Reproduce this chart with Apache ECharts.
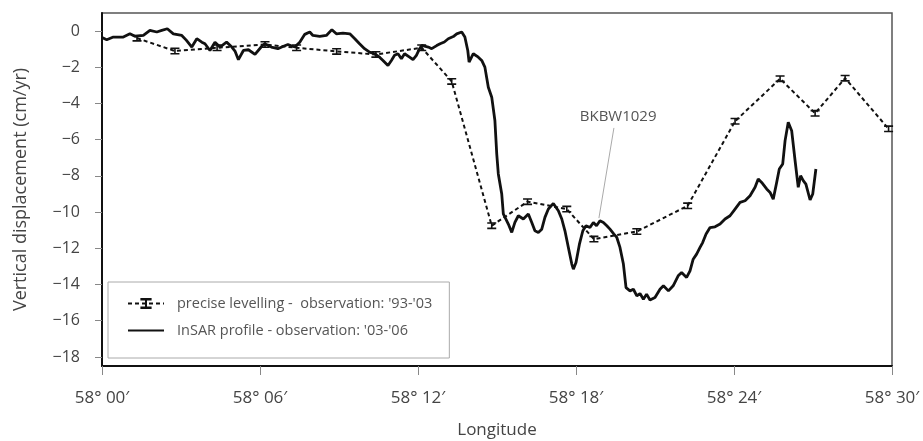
<!DOCTYPE html>
<html>
<head>
<meta charset="utf-8">
<script src="https://cdn.jsdelivr.net/npm/echarts@6/dist/echarts.min.js"></script>
<style>
  html, body { margin: 0; padding: 0; background: #fff; }
  #chart { width: 923px; height: 441px; }
</style>
</head>
<body>
<div id="chart"></div>
<script>
// ---- Data (x: minutes of longitude past 58°, y: cm/yr) ----
const xTicks = [0, 6, 12, 18, 24, 30];
const yTicks = [0, -2, -4, -6, -8, -10, -12, -14, -16, -18];

const levName = "precise levelling -  observation: '93-'03";
const levX = [1.33, 2.77, 4.37, 6.19, 7.39, 8.91, 10.4, 12.14, 13.28, 14.8, 16.16, 17.65, 18.68, 20.31, 22.24, 24.04, 25.75, 27.08, 28.22, 29.87];
const levY = [-0.39, -1.1, -0.92, -0.74, -0.92, -1.12, -1.29, -0.92, -2.78, -10.75, -9.42, -9.83, -11.49, -11.07, -9.65, -4.98, -2.63, -4.54, -2.6, -5.4];

const insarName = "InSAR profile - observation: '03-'06";
const insarX = [0, 0.18, 0.43, 0.81, 1.06, 1.25, 1.57, 1.82, 2.08, 2.27, 2.48, 2.71, 3.03, 3.2, 3.41, 3.6, 3.79, 3.91, 4.1, 4.29, 4.48, 4.73, 4.93, 5.05, 5.18, 5.37, 5.56, 5.81, 6.06, 6.18, 6.43, 6.68, 6.87, 7.06, 7.32, 7.51, 7.7, 7.89, 8.01, 8.27, 8.52, 8.73, 8.9, 9.15, 9.41, 9.6, 9.78, 9.97, 10.16, 10.35, 10.54, 10.67, 10.86, 10.99, 11.11, 11.24, 11.37, 11.49, 11.68, 11.81, 11.94, 12.06, 12.14, 12.39, 12.52, 12.71, 12.84, 13.0, 13.15, 13.34, 13.47, 13.66, 13.78, 13.89, 13.94, 14.1, 14.29, 14.42, 14.54, 14.67, 14.8, 14.92, 14.99, 15.05, 15.18, 15.24, 15.37, 15.43, 15.56, 15.68, 15.81, 16.0, 16.19, 16.32, 16.44, 16.57, 16.7, 16.82, 16.95, 17.14, 17.33, 17.46, 17.58, 17.71, 17.84, 17.9, 18.0, 18.13, 18.26, 18.38, 18.53, 18.66, 18.78, 18.91, 19.04, 19.17, 19.29, 19.44, 19.55, 19.67, 19.8, 19.9, 20.05, 20.18, 20.31, 20.43, 20.56, 20.68, 20.81, 21.0, 21.19, 21.32, 21.51, 21.69, 21.88, 22.01, 22.2, 22.33, 22.45, 22.58, 22.71, 22.81, 22.94, 23.09, 23.28, 23.47, 23.66, 23.85, 24.04, 24.23, 24.42, 24.61, 24.8, 24.92, 25.05, 25.24, 25.37, 25.49, 25.62, 25.72, 25.85, 25.94, 26.06, 26.19, 26.32, 26.44, 26.53, 26.63, 26.73, 26.89, 26.99, 27.11];
const insarY = [-0.35, -0.48, -0.33, -0.33, -0.15, -0.29, -0.24, 0.04, -0.05, 0.04, 0.13, -0.15, -0.24, -0.5, -0.88, -0.42, -0.61, -0.7, -1.07, -0.61, -0.88, -0.61, -0.88, -1.1, -1.58, -1.07, -1.03, -1.29, -0.85, -0.7, -0.88, -0.97, -0.85, -0.74, -0.88, -0.61, -0.18, -0.05, -0.24, -0.29, -0.24, 0.08, -0.15, -0.11, -0.15, -0.42, -0.7, -0.97, -1.16, -1.25, -1.44, -1.62, -1.9, -1.62, -1.34, -1.25, -1.53, -1.25, -1.44, -1.58, -1.34, -0.97, -0.79, -0.88, -0.97, -0.8, -0.7, -0.6, -0.42, -0.3, -0.15, -0.05, -0.33, -1.07, -1.71, -1.25, -1.44, -1.62, -1.99, -3.1, -3.65, -4.94, -6.78, -7.89, -9.0, -10.1, -10.48, -10.66, -11.12, -10.57, -10.2, -10.38, -10.1, -10.57, -11.03, -11.12, -10.94, -10.29, -9.83, -9.52, -9.92, -10.38, -11.03, -11.95, -12.87, -13.15, -12.78, -11.77, -11.03, -10.75, -10.85, -10.57, -10.75, -10.48, -10.57, -10.75, -10.94, -11.21, -11.4, -11.95, -12.87, -14.17, -14.35, -14.26, -14.63, -14.5, -14.81, -14.53, -14.85, -14.72, -14.26, -14.07, -14.35, -14.07, -13.52, -13.34, -13.61, -13.24, -12.6, -12.32, -11.95, -11.68, -11.21, -10.85, -10.81, -10.66, -10.38, -10.2, -9.83, -9.46, -9.37, -9.09, -8.63, -8.17, -8.36, -8.72, -8.91, -9.28, -8.36, -7.62, -7.34, -6.05, -5.04, -5.5, -7.16, -8.63, -7.99, -8.26, -8.45, -9.33, -9.0, -7.62];

const annotText = 'BKBW1029';
const annotLabelAt = [19.6, -4.75];
const annotLineFrom = [19.44, -5.35];
const annotLineTo = [18.87, -10.33];

// ---- Chart ----
const FONT = '"Open Sans", "DejaVu Sans", sans-serif';
const errBar = 'path://M0,0H9V1.6H5.3V5.4H9V7H0V5.4H3.7V1.6H0Z';
const pad2 = v => (v < 10 ? '0' : '') + v;

const chart = echarts.init(document.getElementById('chart'), null, { renderer: 'canvas' });
chart.setOption({
  animation: false,
  backgroundColor: '#fff',
  grid: { left: 102, top: 13, right: 31, bottom: 75, outerBoundsMode: 'none', containLabel: false,
    show: true, borderColor: '#555', borderWidth: 1.5, backgroundColor: 'transparent' },
  legend: {
    orient: 'vertical',
    left: 108, top: 282,
    padding: [14, 17, 20, 19],
    itemWidth: 36, itemHeight: 14, itemGap: 12,
    borderColor: '#aaa', borderWidth: 1,
    textStyle: { fontFamily: FONT, fontSize: 14.5, color: '#555', padding: [0, 0, 0, 8] },
    data: [
      { name: levName },
      { name: insarName, itemStyle: { opacity: 0 } }
    ]
  },
  xAxis: {
    type: 'value', min: 0, max: 30, interval: 6,
    name: 'Longitude', nameLocation: 'middle', nameGap: 56,
    nameTextStyle: { fontFamily: FONT, fontSize: 17, color: '#444' },
    axisLine: { show: true, onZero: false, lineStyle: { color: '#111', width: 2 } },
    axisTick: { show: true, length: 9, lineStyle: { color: '#888', width: 1 } },
    axisLabel: { margin: 24, fontFamily: FONT, fontSize: 17, color: '#444',
      formatter: v => '58° ' + pad2(v) + '′' },
    splitLine: { show: false }
  },
  yAxis: {
    type: 'value', min: -18.5, max: 1,
    name: 'Vertical displacement (cm/yr)', nameLocation: 'middle', nameGap: 72,
    nameTextStyle: { fontFamily: FONT, fontSize: 18, color: '#444' },
    axisLine: { show: true, onZero: false, lineStyle: { color: '#111', width: 2 } },
    axisTick: { show: true, length: 7, lineStyle: { color: '#888', width: 1 }, customValues: yTicks },
    axisLabel: { margin: 22, fontFamily: FONT, fontSize: 16, color: '#444', customValues: yTicks,
      formatter: v => (v < 0 ? '−' + Math.abs(v) : '' + v) },
    splitLine: { show: false }
  },
  series: [
    {
      name: levName,
      type: 'line',
      data: levX.map((x, i) => [x, levY[i]]),
      symbol: errBar, symbolSize: [9, 7], showSymbol: true,
      itemStyle: { color: '#111' },
      lineStyle: { color: '#111', width: 2, type: [4, 3] },
      z: 3
    },
    {
      name: insarName,
      type: 'line',
      data: insarX.map((x, i) => [x, insarY[i]]),
      showSymbol: false, symbol: 'none',
      lineStyle: { color: '#111', width: 2.8 },
      itemStyle: { color: '#111' },
      z: 2,
      markLine: {
        silent: true, symbol: 'none',
        lineStyle: { color: '#aaa', width: 1, type: 'solid' },
        label: { show: false },
        data: [[{ coord: annotLineFrom }, { coord: annotLineTo }]]
      },
      markPoint: {
        silent: true, symbol: 'circle', symbolSize: 1,
        itemStyle: { color: 'rgba(0,0,0,0)' },
        label: { show: true, position: 'inside', formatter: annotText, fontFamily: FONT, fontSize: 15, color: '#555' },
        data: [{ coord: annotLabelAt }]
      }
    }
  ]
});
</script>
</body>
</html>
